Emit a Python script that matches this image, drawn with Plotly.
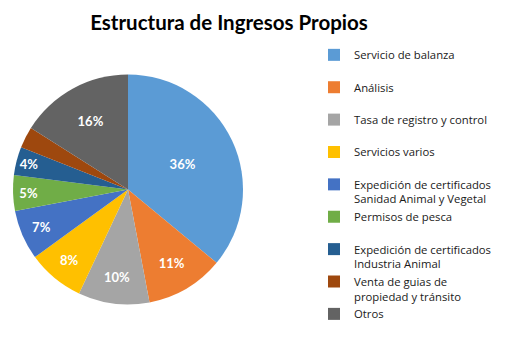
import plotly.graph_objects as go

labels = [
    "Servicio de balanza",
    "Análisis",
    "Tasa de registro y control",
    "Servicios varios",
    "Expedición de certificados<br>Sanidad Animal y Vegetal",
    "Permisos de pesca",
    "Expedición de certificados<br>Industria Animal",
    "Venta de guias de<br>propiedad y tránsito",
    "Otros",
]
values = [36, 11, 10, 8, 7, 5, 4, 3, 16]
colors = ["#5B9BD5", "#ED7D31", "#A5A5A5", "#FFC000", "#4472C4",
          "#70AD47", "#255E91", "#9E480E", "#636363"]
show_label = [True, True, True, True, True, True, True, False, True]

# pad single-line legend entries to two lines so every entry has equal height
legend_names = [l if "<br>" in l else l + "<br> " for l in labels]
templates = ["%{percent:.0%}" if s else "" for s in show_label]

W, H = 517, 353
fig = go.Figure(go.Pie(
    labels=legend_names,
    values=values,
    sort=False,
    direction="clockwise",
    rotation=0,
    marker=dict(colors=colors, line=dict(width=0)),
    texttemplate=templates,
    textposition="inside",
    insidetextorientation="horizontal",
    textfont=dict(family="Lato", size=13, color="white", weight="bold"),
    domain=dict(x=[13 / W, 243 / W], y=[1 - 305 / H, 1 - 74 / H]),
    hoverinfo="label+percent",
))

fig.update_layout(
    width=W, height=H,
    margin=dict(l=0, r=0, t=0, b=0),
    paper_bgcolor="white",
    plot_bgcolor="white",
    font=dict(family="Lato", color="#1a1a1a"),
    title=dict(
        text="<b>Estructura de Ingresos Propios</b>",
        x=229 / W, xref="paper", xanchor="center",
        y=1 - 23 / H, yref="container", yanchor="middle",
        font=dict(family="Lato", size=20.5, color="black"),
    ),
    showlegend=True,
    legend=dict(
        x=(354 - 40) / W, xanchor="left",
        y=1 - 41 / H, yanchor="top",
        valign="top",
        font=dict(family="Open Sans", size=11.3, color="#1a1a1a"),
        tracegroupgap=0,
        bgcolor="rgba(0,0,0,0)",
    ),
)

fig.write_html("out.html")
